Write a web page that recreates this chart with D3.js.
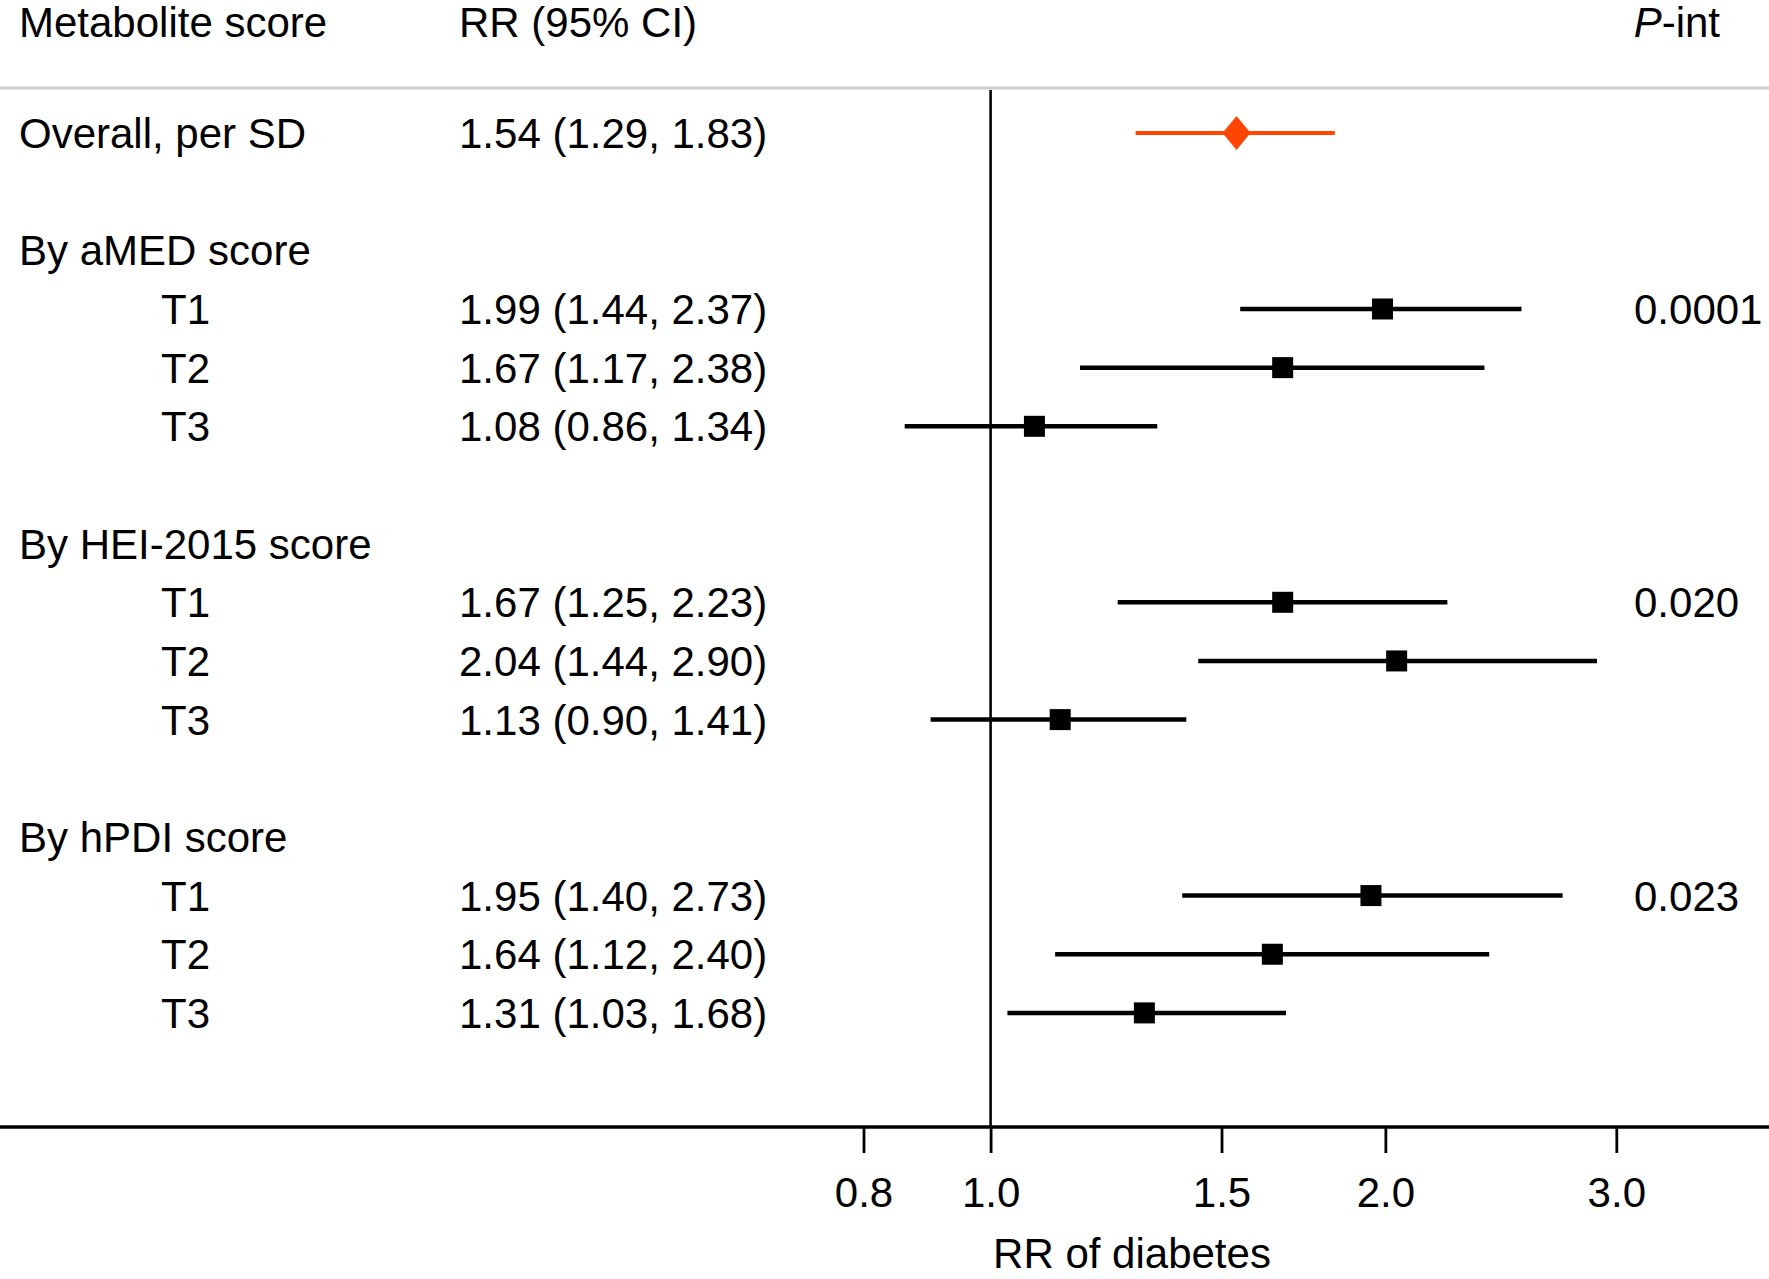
<!DOCTYPE html>
<html><head><meta charset="utf-8">
<script src="https://cdn.jsdelivr.net/npm/d3@7"></script>
<style>html,body{margin:0;padding:0;background:#fff;}svg{display:block;font-family:"Liberation Sans",Arial,Helvetica,sans-serif;}</style>
</head><body>
<script>
// ---- data ----
const rowLabels = ["Overall, per SD", "", "By aMED score", "T1", "T2", "T3", "", "By HEI-2015 score", "T1", "T2", "T3", "", "By hPDI score", "T1", "T2", "T3"];
const rowIndent = [0, 0, 0, 1, 1, 1, 0, 0, 1, 1, 1, 0, 0, 1, 1, 1];
const ciText = ["1.54 (1.29, 1.83)", "", "", "1.99 (1.44, 2.37)", "1.67 (1.17, 2.38)", "1.08 (0.86, 1.34)", "", "", "1.67 (1.25, 2.23)", "2.04 (1.44, 2.90)", "1.13 (0.90, 1.41)", "", "", "1.95 (1.40, 2.73)", "1.64 (1.12, 2.40)", "1.31 (1.03, 1.68)"];
const rrValues = [1.54, null, null, 1.99, 1.67, 1.08, null, null, 1.67, 2.04, 1.13, null, null, 1.95, 1.64, 1.31];
const ciLower  = [1.29, null, null, 1.55, 1.17, 0.86, null, null, 1.25, 1.44, 0.90, null, null, 1.40, 1.12, 1.03];
const ciUpper  = [1.83, null, null, 2.54, 2.38, 1.34, null, null, 2.23, 2.90, 1.41, null, null, 2.73, 2.40, 1.68];
const pInt     = ["", "", "", "0.0001", "", "", "", "", "0.020", "", "", "", "", "0.023", "", ""];
const tickValues = [0.8, 1.0, 1.5, 2.0, 3.0];
const headers = ["Metabolite score", "RR (95% CI)", "-int"];
const axisTitle = "RR of diabetes";

const W = 1769, H = 1279, FS = 42;
const svg = d3.select("body").append("svg").attr("width", W).attr("height", H);

const x = d3.scaleLog().domain([0.8, 3.0]).range([863.5, 1616.3]);
const y = d3.scaleLinear().domain([0, 1]).range([133, 191.66]);
const sepY = 88, axisY = 1127;

// header
const hy = 37;
svg.append("text").attr("x", 19).attr("y", hy).attr("font-size", FS).text(headers[0]);
svg.append("text").attr("x", 459).attr("y", hy).attr("font-size", FS).text(headers[1]);
const ph = svg.append("text").attr("x", 1720).attr("y", hy).attr("font-size", FS).attr("text-anchor", "end");
ph.append("tspan").attr("font-style", "italic").text("P");
ph.append("tspan").text(headers[2]);

// separator
svg.append("line").attr("x1", 0).attr("x2", W).attr("y1", sepY).attr("y2", sepY)
  .attr("stroke", "#cfcfcf").attr("stroke-width", 3);

// reference line at 1.0
svg.append("line").attr("x1", x(1)).attr("x2", x(1)).attr("y1", sepY + 2).attr("y2", axisY)
  .attr("stroke", "#000").attr("stroke-width", 2.6);

const idx = d3.range(rowLabels.length);
const baseOff = 15;

// labels
svg.selectAll("text.lab").data(idx.filter(i => rowLabels[i])).join("text").attr("class", "lab")
  .attr("x", i => rowIndent[i] ? 161 : 19).attr("y", i => y(i) + baseOff)
  .attr("font-size", FS).text(i => rowLabels[i]);
svg.selectAll("text.ci").data(idx.filter(i => ciText[i])).join("text").attr("class", "ci")
  .attr("x", 459).attr("y", i => y(i) + baseOff).attr("font-size", FS).text(i => ciText[i]);
svg.selectAll("text.p").data(idx.filter(i => pInt[i])).join("text").attr("class", "p")
  .attr("x", 1634).attr("y", i => y(i) + baseOff).attr("font-size", FS).text(i => pInt[i]);

// CI lines
const pts = idx.filter(i => rrValues[i] != null);
svg.selectAll("line.ci").data(pts).join("line").attr("class", "ci")
  .attr("x1", i => x(ciLower[i])).attr("x2", i => x(ciUpper[i]))
  .attr("y1", i => y(i)).attr("y2", i => y(i))
  .attr("stroke", i => i === 0 ? "#ff4500" : "#000").attr("stroke-width", i => i === 0 ? 4 : 4.5);

// markers
svg.selectAll("rect.pt").data(pts.filter(i => i !== 0)).join("rect").attr("class", "pt")
  .attr("x", i => x(rrValues[i]) - 10.5).attr("y", i => y(i) - 10.5)
  .attr("width", 21).attr("height", 21).attr("fill", "#000");
svg.selectAll("path.dia").data(pts.filter(i => i === 0)).join("path").attr("class", "dia")
  .attr("d", i => { const cx = x(rrValues[i]), cy = y(i); return `M${cx},${cy-17}L${cx+14},${cy}L${cx},${cy+17}L${cx-14},${cy}Z`; })
  .attr("fill", "#ff4500");

// axis
svg.append("line").attr("x1", 0).attr("x2", W).attr("y1", axisY).attr("y2", axisY)
  .attr("stroke", "#000").attr("stroke-width", 3.5);
const ax = svg.append("g").attr("transform", `translate(0,${axisY})`)
  .call(d3.axisBottom(x).tickValues(tickValues).tickFormat(d3.format(".1f")).tickSize(26).tickPadding(24));
ax.select(".domain").remove();
ax.selectAll(".tick line").attr("stroke", "#000").attr("stroke-width", 2.8);
ax.selectAll(".tick text").attr("font-size", FS).attr("fill", "#000")
  .attr("font-family", "'Liberation Sans',Arial,sans-serif").attr("dy", "0.71em");

svg.append("text").attr("x", 1132).attr("y", 1268).attr("text-anchor", "middle").attr("font-size", FS).text(axisTitle);
</script>
</body></html>
